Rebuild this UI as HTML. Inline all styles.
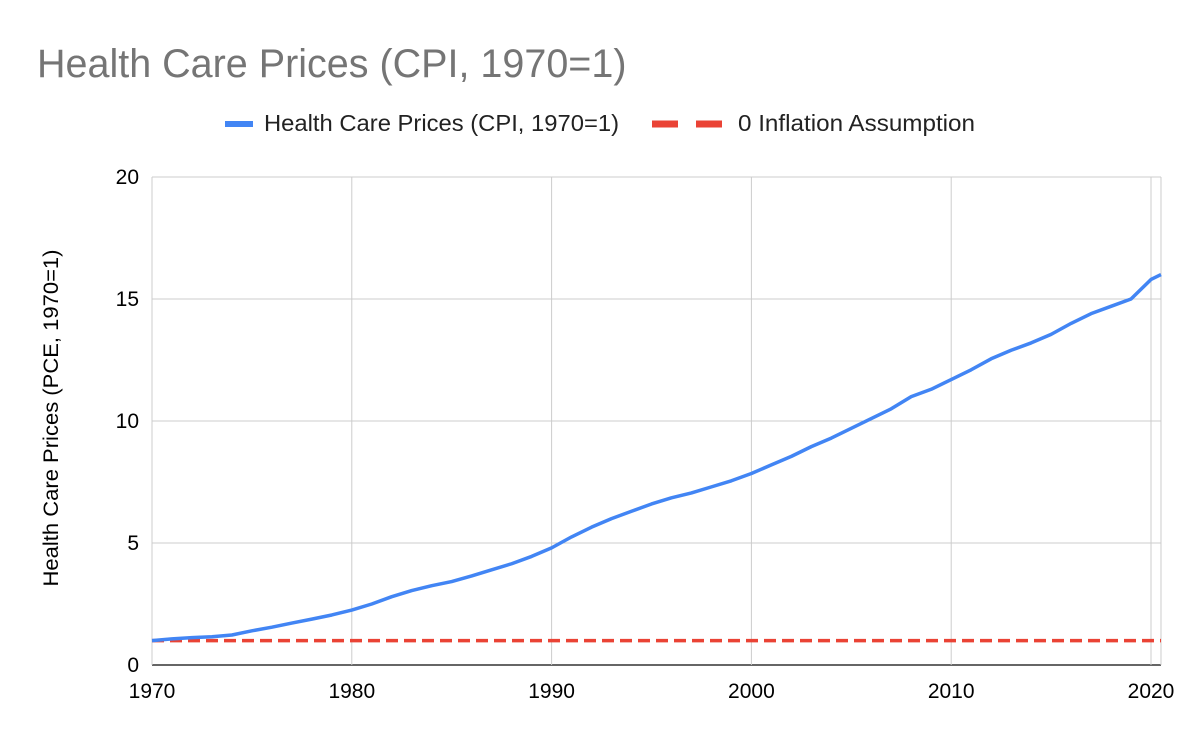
<!DOCTYPE html>
<html><head><meta charset="utf-8"><style>
body{margin:0;background:#fff;}
svg{display:block;font-family:"Liberation Sans",Arial,sans-serif;}
</style></head><body>
<svg id="c" width="1200" height="742">
<text x="37" y="77" font-size="39.5" fill="#757575">Health Care Prices (CPI, 1970=1)</text>
<g>
<line x1="225" y1="124" x2="253" y2="124" stroke="#4285f4" stroke-width="6"/>
<text x="264" y="131" font-size="23" textLength="355" lengthAdjust="spacingAndGlyphs" fill="#222">Health Care Prices (CPI, 1970=1)</text>
<line x1="652" y1="124" x2="722" y2="124" stroke="#ea4335" stroke-width="7" stroke-dasharray="26,18"/>
<text x="738" y="131" font-size="23" textLength="237" lengthAdjust="spacingAndGlyphs" fill="#222">0 Inflation Assumption</text>
</g>
<text transform="translate(58,418) rotate(-90)" text-anchor="middle" font-size="21.5" textLength="337" lengthAdjust="spacingAndGlyphs" fill="#000">Health Care Prices (PCE, 1970=1)</text>
<g id="grid"></g><g id="marks"></g><g id="labels"></g>
</svg>
<script>
const years=[1970,1971,1972,1973,1974,1975,1976,1977,1978,1979,1980,1981,1982,1983,1984,1985,1986,1987,1988,1989,1990,1991,1992,1993,1994,1995,1996,1997,1998,1999,2000,2001,2002,2003,2004,2005,2006,2007,2008,2009,2010,2011,2012,2013,2014,2015,2016,2017,2018,2019,2020,2020.5];
const health=[1.0,1.07,1.12,1.16,1.23,1.40,1.55,1.72,1.88,2.05,2.25,2.50,2.8,3.05,3.25,3.42,3.65,3.9,4.15,4.45,4.8,5.25,5.65,6.0,6.3,6.6,6.85,7.05,7.3,7.55,7.85,8.2,8.55,8.95,9.3,9.7,10.1,10.5,11.0,11.3,11.7,12.1,12.55,12.9,13.2,13.55,14.0,14.4,14.7,15.0,15.8,16.0];
const inflation=[1,1];
const inflationYears=[1970,2020.5];
const xTicks=[1970,1980,1990,2000,2010,2020];
const yTicks=[0,5,10,15,20];
const ns="http://www.w3.org/2000/svg";
const X=v=>152+(v-1970)*19.98, Y=v=>665-v*24.4;
const L=1970, R=2020.5;
const grid=document.getElementById('grid'),marks=document.getElementById('marks'),labels=document.getElementById('labels');
function mk(tag,attrs,parent){const e=document.createElementNS(ns,tag);for(const k in attrs)e.setAttribute(k,attrs[k]);parent.appendChild(e);return e;}
yTicks.forEach(t=>{
 const l=mk('line',{x1:X(L),x2:X(R),y1:Y(t),y2:Y(t),stroke:t===0?'#333':'#ccc','stroke-width':t===0?1.5:1},grid);
 
 
 const tx=mk('text',{x:139,y:Y(t)+7,'text-anchor':'end','font-size':21,fill:'#000'},labels);
 tx.textContent=t;
 
 
});
xTicks.forEach(t=>{
 const l=mk('line',{x1:X(t),x2:X(t),y1:Y(20),y2:Y(0),stroke:'#ccc','stroke-width':1},grid);
 
 
 const tx=mk('text',{x:X(t),y:698,'text-anchor':'middle','font-size':21,fill:'#000'},labels);
 tx.textContent=t;
 
 
});
const right=mk('line',{x1:X(R),x2:X(R),y1:Y(20),y2:Y(0),stroke:'#ccc'},grid);


const inf=mk('polyline',{points:inflationYears.map((y,i)=>X(y)+','+Y(inflation[i])).join(' '),fill:'none',stroke:'#ea4335','stroke-width':3.5,'stroke-dasharray':'12,6'},marks);


const hl=mk('polyline',{points:years.map((y,i)=>X(y)+','+Y(health[i])).join(' '),fill:'none',stroke:'#4285f4','stroke-width':3.5,'stroke-linejoin':'round'},marks);


</script>
</body></html>
